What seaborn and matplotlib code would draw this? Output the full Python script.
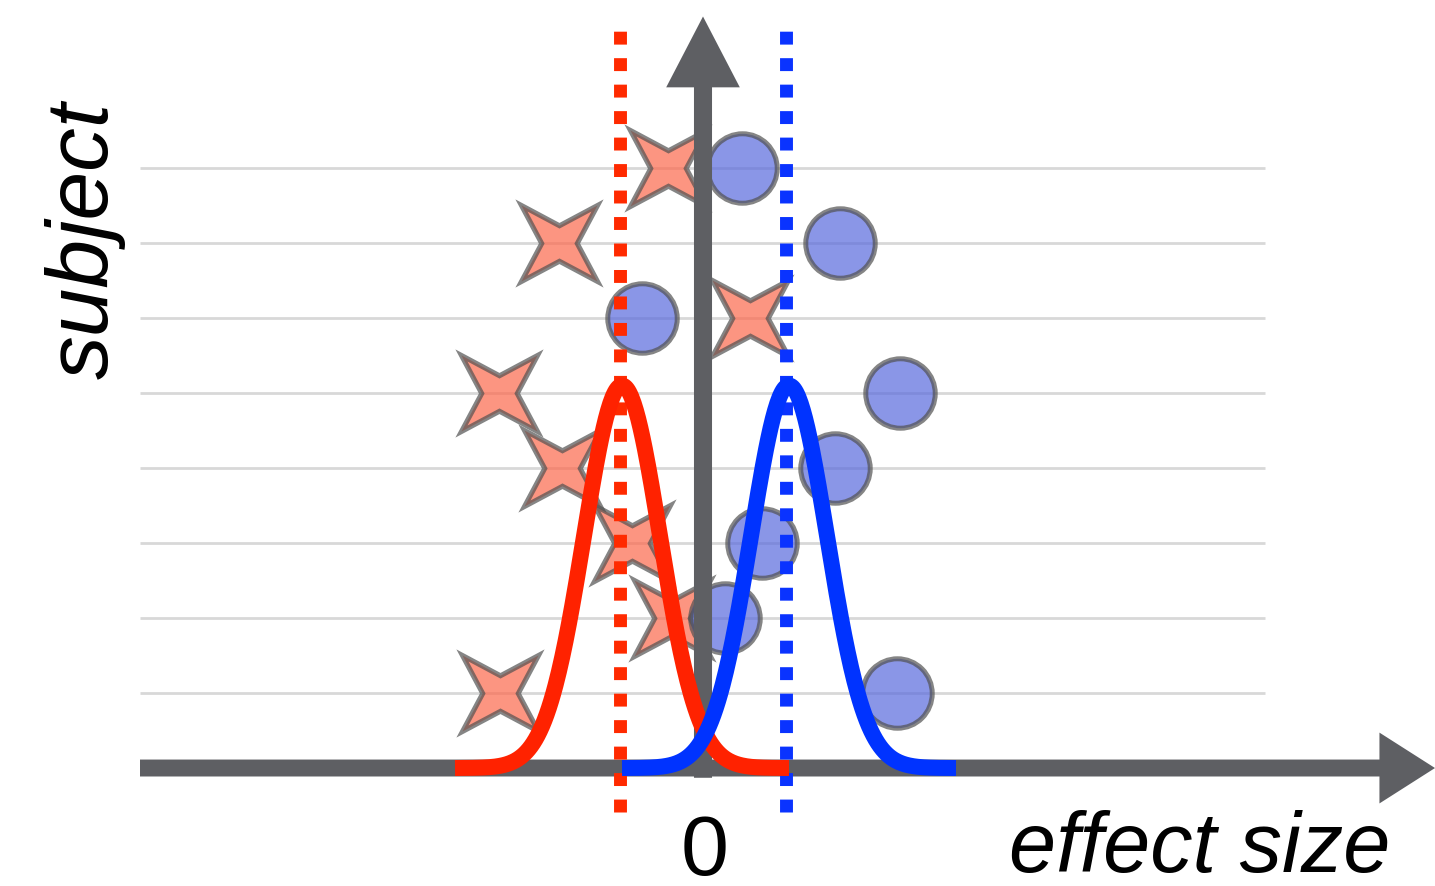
import numpy as np
import pandas as pd
import matplotlib
matplotlib.use("Agg")
import matplotlib.pyplot as plt
from matplotlib.path import Path
import seaborn as sns

# ---- data ----
subjects = [1, 2, 3, 4, 5, 6, 7, 8]
star_effect = [-2.03, -0.31, -0.71, -1.41, -2.04, 0.47, -1.44, -0.35]
circle_effect = [1.94, 0.22, 0.59, 1.32, 1.97, -0.61, 1.37, 0.39]
red_mean, blue_mean = -0.83, 0.83           # dotted reference lines
red_curve = dict(mu=-0.81, sd=0.38, height=5.1, half_range=1.67)
blue_curve = dict(mu=0.86, sd=0.38, height=5.1, half_range=1.67)
x_label = "effect size"
y_label = "subject"
zero_label = "0"

sns.set_theme(style="white")
plt.rcParams['font.family'] = ['Liberation Sans', 'DejaVu Sans']

fig = plt.figure(figsize=(14.35, 8.86), dpi=100)
ax = fig.add_axes([0, 0, 1, 1])
ax.set_xlim(-7.03, 7.32)
ax.set_ylim(-1.573, 10.24)
ax.axis('off')

# grid lines at subjects
ax.hlines(subjects, -5.63, 5.62, color='#d8d8d8', lw=2, zorder=0)

# four-pointed star marker (tips on the diagonals)
k = np.arange(9) % 8
ang = np.deg2rad(k * 45 + 45)
rad = np.where(k % 2 == 0, 1.0, 0.33)
star_path = Path(np.column_stack([rad * np.cos(ang), rad * np.sin(ang)]), closed=True)

df = pd.DataFrame({"subject": subjects, "star": star_effect, "circle": circle_effect})
sns.scatterplot(data=df, x="star", y="subject", marker=star_path, s=3000,
                color='#fc684c', edgecolor='#515151', linewidth=3.6, alpha=0.7,
                ax=ax, zorder=2)
ax.collections[-1].set_joinstyle('miter')
sns.scatterplot(data=df, x="circle", y="subject", marker='o', s=2500,
                color='#596add', edgecolor='#515151', linewidth=3.6, alpha=0.7,
                ax=ax, zorder=2)

# axes arrows
axis_col = '#5e5f63'
ax.annotate("", xy=(7.32, 0), xytext=(-5.63, 0),
            arrowprops=dict(arrowstyle="simple,head_length=40,head_width=51,tail_width=12.2",
                            mutation_scale=1, color=axis_col, lw=0, shrinkA=0, shrinkB=0),
            zorder=3)
ax.annotate("", xy=(0, 10.02), xytext=(0, -0.13),
            arrowprops=dict(arrowstyle="simple,head_length=51,head_width=53,tail_width=13",
                            mutation_scale=1, color=axis_col, lw=0, shrinkA=0, shrinkB=0),
            zorder=3)

# dotted mean lines
for xm, col in [(red_mean, '#ff2a00'), (blue_mean, '#0a33ff')]:
    ax.plot([xm, xm], [-0.59, 9.91], color=col, lw=9.3, dashes=(1, 1.05),
            dash_capstyle='butt', zorder=4)

# gaussian curves
for p, col in [(red_curve, '#ff2200'), (blue_curve, '#0033ff')]:
    xs = np.linspace(p['mu'] - p['half_range'], p['mu'] + p['half_range'], 300)
    ys = p['height'] * np.exp(-0.5 * ((xs - p['mu']) / p['sd']) ** 2)
    sns.lineplot(x=xs, y=ys, color=col, lw=11.5, ax=ax, zorder=5, sort=False)
for ln in ax.lines:
    ln.set_solid_capstyle('butt')

# texts
ax.text(0.02, -1.42, zero_label, ha='center', va='baseline', fontsize=62, color='black')
ax.text(6.87, -1.38, x_label, ha='right', va='baseline', fontsize=61,
        style='italic', color='black')
ax.text(-6.18, 7.03, y_label, ha='center', va='center', rotation=90, fontsize=63,
        style='italic', color='black')

fig.savefig("out.png", dpi=100)
